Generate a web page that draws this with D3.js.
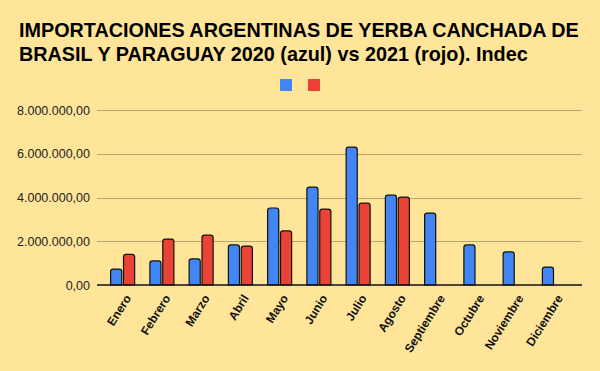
<!DOCTYPE html>
<html>
<head>
<meta charset="utf-8">
<script src="https://cdn.jsdelivr.net/npm/d3@7"></script>
<style>
  html, body { margin: 0; padding: 0; background: #ffe599; }
  svg { display: block; font-family: Arial, "Liberation Sans", sans-serif; }
</style>
</head>
<body>
<svg id="chart" width="600" height="371"></svg>
<script>
var titleLines = [
	'IMPORTACIONES ARGENTINAS DE YERBA CANCHADA DE',
	'BRASIL Y PARAGUAY 2020 (azul) vs 2021 (rojo). Indec'
];
var months = ['Enero', 'Febrero', 'Marzo', 'Abril', 'Mayo', 'Junio', 'Julio',
	'Agosto', 'Septiembre', 'Octubre', 'Noviembre', 'Diciembre'];
var series = ['2020', '2021'];
var values2020 = [730000, 1100000, 1190000, 1830000, 3520000, 4470000, 6300000,
	4110000, 3290000, 1830000, 1510000, 820000];
var values2021 = [1400000, 2100000, 2280000, 1780000, 2470000, 3470000, 3740000,
	4020000, null, null, null, null];
var yTicks = [0, 2000000, 4000000, 6000000, 8000000];
var colors = {'2020': '#4285f4', '2021': '#ea4335'};

var svg = d3.select('#chart');
var margin = {left: 97, right: 18, top: 110, bottom: 86};
var width = 600, height = 371;

var locale = d3.formatLocale({decimal: ',', thousands: '.', grouping: [3], currency: ['$', '']});
var fmt = locale.format(',.2f');

// title
var title = svg.append('g').attr('class', 'title');
titleLines.forEach(function(t, i) {
	title.append('text')
		.attr('x', 19)
		.attr('y', 37 + i * 24)
		.style('font-size', '19.8px')
		.style('font-weight', 'bold')
		.attr('fill', '#000')
		.text(t);
});

// legend (squares only)
var legend = svg.append('g').attr('class', 'legend');
series.forEach(function(s, i) {
	legend.append('rect')
		.attr('x', 280 + i * 28)
		.attr('y', 79)
		.attr('width', 12)
		.attr('height', 12)
		.attr('fill', colors[s]);
});

var y = d3.scaleLinear()
	.domain([0, 8000000])
	.range([height - margin.bottom, margin.top]);

var x0 = d3.scaleBand()
	.domain(months)
	.range([103, 574])
	.padding(0);

var bw = x0.bandwidth();
var x1 = d3.scaleBand()
	.domain(series)
	.range([bw / 2 - 12.5, bw / 2 + 12.5])
	.paddingInner(0.06);

// ===========================================================================
// grid + y labels
var grid = svg.append('g').attr('class', 'grid');
grid.selectAll('line')
	.data(yTicks.filter(function(d) { return d > 0; }))
	.enter().append('line')
	.attr('x1', margin.left)
	.attr('x2', width - margin.right)
	.attr('y1', function(d) { return Math.round(y(d)) + 0.5; })
	.attr('y2', function(d) { return Math.round(y(d)) + 0.5; })
	.attr('stroke', '#b9a66c')
	.attr('stroke-width', 1);

svg.append('g').attr('class', 'y-labels')
	.selectAll('text')
	.data(yTicks)
	.enter().append('text')
	.attr('x', 90)
	.attr('y', function(d) { return y(d) + 4.5; })
	.attr('text-anchor', 'end')
	.style('font-size', '12.5px')
	.attr('fill', '#222')
	.text(function(d) { return fmt(d); });

// ===========================================================================
// bars
function topRounded(x, yTop, w, yBase, r) {
	r = Math.min(r, (yBase - yTop));
	return 'M' + x + ',' + yBase +
		'V' + (yTop + r) +
		'Q' + x + ',' + yTop + ' ' + (x + r) + ',' + yTop +
		'H' + (x + w - r) +
		'Q' + (x + w) + ',' + yTop + ' ' + (x + w) + ',' + (yTop + r) +
		'V' + yBase + 'Z';
}

var rows = months.map(function(m, i) {
	return {month: m, vals: [
		{key: '2020', value: values2020[i]},
		{key: '2021', value: values2021[i]}
	]};
});

var groups = svg.append('g').attr('class', 'bars')
	.selectAll('g')
	.data(rows)
	.enter().append('g')
	.attr('transform', function(d) { return 'translate(' + x0(d.month) + ',0)'; });

groups.selectAll('path')
	.data(function(d) { return d.vals.filter(function(v) { return v.value != null; }); })
	.enter().append('path')
	.attr('d', function(d) {
		return topRounded(x1(d.key) + 0.5, y(d.value), x1.bandwidth() - 1, y(0), 2.5);
	})
	.attr('fill', function(d) { return colors[d.key]; })
	.attr('stroke', '#111')
	.attr('stroke-width', 1.2);

// baseline
svg.append('line')
	.attr('x1', margin.left)
	.attr('x2', width - margin.right)
	.attr('y1', y(0))
	.attr('y2', y(0))
	.attr('stroke', '#111')
	.attr('stroke-width', 1.5);

// x labels
svg.append('g').attr('class', 'x-labels')
	.selectAll('text')
	.data(months)
	.enter().append('text')
	.attr('transform', function(d) {
		return 'translate(' + (x0(d) + bw / 2 + 9) + ',' + 298 + ') rotate(-58)';
	})
	.attr('text-anchor', 'end')
	.style('font-size', '12px')
	.style('font-weight', 'bold')
	.attr('fill', '#111')
	.text(function(d) { return d; });
</script>
</body>
</html>
